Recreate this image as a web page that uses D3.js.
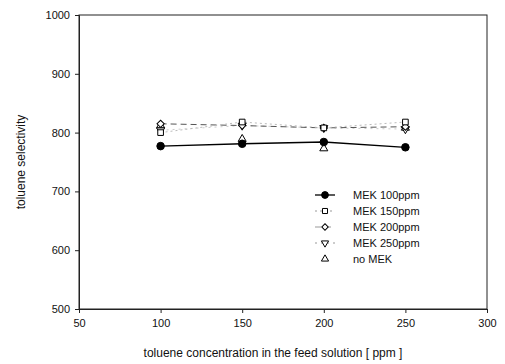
<!DOCTYPE html>
<html>
<head>
<meta charset="utf-8">
<script src="https://cdn.jsdelivr.net/npm/d3@7"></script>
<style>
  body { margin: 0; background: #fff; }
  svg { font-family: "Liberation Sans", Arial, sans-serif; }
</style>
</head>
<body>
<div id="chart"></div>
<script>
const concentrations = [100, 150, 200, 250];
const mek100 = [777, 781, 784, 775];
const mek150 = [800, 818, 808, 818];
const mek200 = [815, 812, 808, 810];
const mek250 = [804, 812, 808, 806];
const noMek = [812, 789, 773, 808];
const seriesNames = ["MEK 100ppm", "MEK 150ppm", "MEK 200ppm", "MEK 250ppm", "no MEK"];
const xTicks = [50, 100, 150, 200, 250, 300];
const yTicks = [500, 600, 700, 800, 900, 1000];

const width = 505, height = 364;
const margin = { top: 15, right: 18, bottom: 55, left: 79 };

const svg = d3.select("#chart").append("svg")
    .attr("width", width)
    .attr("height", height);

const x = d3.scaleLinear().domain([50, 300]).range([margin.left, width - margin.right]);
const y = d3.scaleLinear().domain([500, 1000]).range([height - margin.bottom, margin.top]);

// frame
svg.append("rect")
    .attr("x", x(50)).attr("y", y(1000))
    .attr("width", x(300) - x(50)).attr("height", y(500) - y(1000))
    .attr("fill", "none").attr("stroke", "#222").attr("stroke-width", 1);

const xAxis = svg.append("g")
    .attr("transform", `translate(0,${y(500)})`)
    .call(d3.axisBottom(x).tickValues(xTicks).tickFormat(d3.format("d")).tickSize(4).tickPadding(6));
const yAxis = svg.append("g")
    .attr("transform", `translate(${x(50)},0)`)
    .call(d3.axisLeft(y).tickValues(yTicks).tickFormat(d3.format("d")).tickSize(4).tickPadding(5));

[xAxis, yAxis].forEach(g => {
    g.select(".domain").attr("stroke", "#222");
    g.selectAll(".tick line").attr("stroke", "#222");
    g.selectAll(".tick text").attr("font-size", 11).attr("fill", "#111")
        .attr("font-family", "Liberation Sans, Arial, sans-serif");
});

svg.append("text")
    .attr("x", (x(50) + x(300)) / 2 - 10)
    .attr("y", 357)
    .attr("text-anchor", "middle")
    .attr("font-size", 12)
    .attr("fill", "#111")
    .text("toluene concentration in the feed solution [ ppm ]");

svg.append("text")
    .attr("transform", `translate(25,${(y(500) + y(1000)) / 2}) rotate(-90)`)
    .attr("text-anchor", "middle")
    .attr("font-size", 12)
    .attr("fill", "#111")
    .text("toluene selectivity");

const styles = [
    { values: mek100, symbol: d3.symbolCircle, size: 45, fill: "#000", line: "#000", dash: null, lw: 1.3, angle: 0 },
    { values: mek150, symbol: d3.symbolSquare, size: 32, fill: "#fff", line: "#bbb", dash: "2,3", lw: 1, angle: 0 },
    { values: mek200, symbol: d3.symbolSquare, size: 26, fill: "#fff", line: "#555", dash: "6,4", lw: 1, angle: 45 },
    { values: mek250, symbol: d3.symbolTriangle, size: 28, fill: "#fff", line: "#ccc", dash: "2,4", lw: 1, angle: 180 },
    { values: noMek, symbol: d3.symbolTriangle, size: 28, fill: "#fff", line: null, dash: null, lw: 1, angle: 0 }
];

const line = d3.line().x((d, i) => x(concentrations[i])).y(d => y(d));

styles.slice().reverse().forEach(s => {
    if (s.line) {
        svg.append("path")
            .attr("d", line(s.values))
            .attr("fill", "none")
            .attr("stroke", s.line)
            .attr("stroke-width", s.lw)
            .attr("stroke-dasharray", s.dash);
    }
});

function marker(g, s, cx, cy, k = 1) {
    g.append("path")
        .attr("d", d3.symbol(s.symbol, s.size * k)())
        .attr("transform", `translate(${cx},${cy}) rotate(${s.angle})`)
        .attr("fill", s.fill)
        .attr("stroke", "#000")
        .attr("stroke-width", 1);
}

styles.slice().reverse().forEach(s => {
    s.values.forEach((v, i) => marker(svg, s, x(concentrations[i]), y(v)));
});

// legend
const legend = svg.append("g").attr("transform", "translate(315,195)");
styles.forEach((s, i) => {
    const row = legend.append("g").attr("transform", `translate(0,${i * 16})`);
    if (s.line) {
        row.append("line")
            .attr("x1", 0).attr("x2", 20).attr("y1", 0).attr("y2", 0)
            .attr("stroke", s.line === "#000" ? "#000" : "#999")
            .attr("stroke-width", s.lw)
            .attr("stroke-dasharray", s.dash);
    }
    marker(row, s, 10, 0, 0.8);
    row.append("text")
        .attr("x", 38).attr("y", 4)
        .attr("font-size", 11)
        .attr("fill", "#111")
        .text(seriesNames[i]);
});
</script>
</body>
</html>
